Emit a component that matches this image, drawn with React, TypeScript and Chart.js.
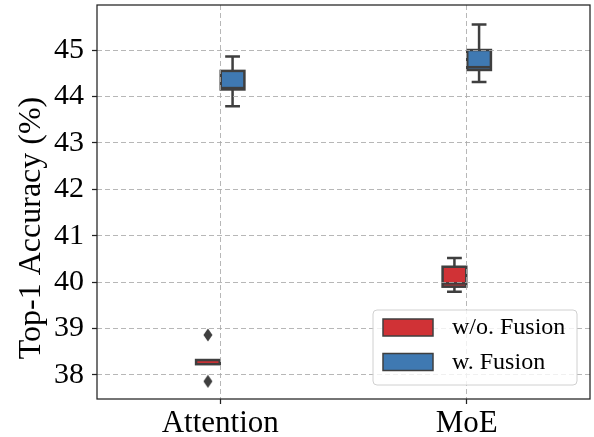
import { useEffect, useRef } from 'react';
import { Chart, registerables } from 'chart.js';

Chart.register(...registerables);

const categories = ['Attention', 'MoE'];
const seriesNames = ['w/o. Fusion', 'w. Fusion'];
const seriesColors = ['#d03236', '#3f79b2'];
const seriesOffsets = [-0.05, 0.05];
const yTitle = 'Top-1 Accuracy (%)';

// [min whisker, q1, median, q3, max whisker] per category
const woFusionAttention = [38.23, 38.23, 38.24, 38.32, 38.32];
const woFusionMoE = [39.79, 39.9, 39.97, 40.33, 40.52];
const wFusionAttention = [43.79, 44.15, 44.18, 44.55, 44.86];
const wFusionMoE = [44.31, 44.57, 44.63, 45.0, 45.55];

const woFusionOutliersAttention = [38.86, 37.86];
const woFusionOutliersMoE: number[] = [];
const wFusionOutliersAttention: number[] = [];
const wFusionOutliersMoE: number[] = [];

const yTicks = [38, 39, 40, 41, 42, 43, 44, 45];
const yMin = 37.48;
const yMax = 45.97;

const seriesStats = [
  [woFusionAttention, woFusionMoE],
  [wFusionAttention, wFusionMoE],
];
const seriesOutliers = [
  [woFusionOutliersAttention, woFusionOutliersMoE],
  [wFusionOutliersAttention, wFusionOutliersMoE],
];

const EDGE = '#3f3f3f';
const FONT = "'Liberation Serif', 'DejaVu Serif', serif";

export default function App() {
  const ref = useRef<HTMLCanvasElement | null>(null);

  useEffect(() => {
    document.body.style.margin = '0';
    const canvas = ref.current;
    if (!canvas) return;

    const marker = document.createElement('canvas');
    marker.width = 10;
    marker.height = 14;
    const mctx = marker.getContext('2d')!;
    mctx.fillStyle = EDGE;
    mctx.beginPath();
    mctx.moveTo(5, 0.5);
    mctx.lineTo(9.5, 7);
    mctx.lineTo(5, 13.5);
    mctx.lineTo(0.5, 7);
    mctx.closePath();
    mctx.fill();

    const outlierData: { x: number; y: number }[] = [];
    seriesOutliers.forEach((perCat, s) => {
      perCat.forEach((vals, c) => {
        vals.forEach((v) => outlierData.push({ x: c + seriesOffsets[s], y: v }));
      });
    });

    const boxWidth = 0.096;
    const capWidth = 0.06;

    const boxPlugin = {
      id: 'boxes',
      beforeDatasetsDraw(chart: any) {
        const { ctx } = chart;
        const xs = chart.scales.x;
        const ys = chart.scales.y;
        ctx.save();
        seriesStats.forEach((perCat, s) => {
          perCat.forEach((st, c) => {
            const cx = c + seriesOffsets[s];
            const xl = xs.getPixelForValue(cx - boxWidth / 2);
            const xr = xs.getPixelForValue(cx + boxWidth / 2);
            const xc = xs.getPixelForValue(cx);
            const cl = xs.getPixelForValue(cx - capWidth / 2);
            const cr = xs.getPixelForValue(cx + capWidth / 2);
            const pMin = ys.getPixelForValue(st[0]);
            const pQ1 = ys.getPixelForValue(st[1]);
            const pMed = ys.getPixelForValue(st[2]);
            const pQ3 = ys.getPixelForValue(st[3]);
            const pMax = ys.getPixelForValue(st[4]);
            ctx.strokeStyle = EDGE;
            ctx.lineWidth = 2.5;
            ctx.lineCap = 'butt';
            ctx.beginPath();
            ctx.moveTo(xc, pQ1);
            ctx.lineTo(xc, pMin);
            ctx.moveTo(xc, pQ3);
            ctx.lineTo(xc, pMax);
            if (st[0] < st[1]) {
              ctx.moveTo(cl, pMin);
              ctx.lineTo(cr, pMin);
            }
            if (st[4] > st[3]) {
              ctx.moveTo(cl, pMax);
              ctx.lineTo(cr, pMax);
            }
            ctx.stroke();
            ctx.fillStyle = seriesColors[s];
            ctx.fillRect(xl, pQ3, xr - xl, pQ1 - pQ3);
            ctx.strokeRect(xl, pQ3, xr - xl, pQ1 - pQ3);
            if (pQ1 - pQ3 > 8) {
              ctx.beginPath();
              ctx.moveTo(xl, pMed);
              ctx.lineTo(xr, pMed);
              ctx.stroke();
            }
          });
        });
        ctx.restore();
      },
      afterDraw(chart: any) {
        const { ctx, chartArea } = chart;
        ctx.save();
        ctx.strokeStyle = '#222';
        ctx.lineWidth = 1.25;
        ctx.strokeRect(chartArea.left, chartArea.top, chartArea.right - chartArea.left, chartArea.bottom - chartArea.top);
        // y-axis title
        ctx.save();
        ctx.translate(32, 228);
        ctx.rotate(-Math.PI / 2);
        ctx.font = `32px ${FONT}`;
        ctx.fillStyle = '#000';
        ctx.textAlign = 'center';
        ctx.textBaseline = 'middle';
        ctx.fillText(yTitle, 0, 0);
        ctx.restore();
        // legend
        const lx = 373, ly = 310, lw = 204, lh = 75, r = 4;
        ctx.beginPath();
        ctx.moveTo(lx + r, ly);
        ctx.lineTo(lx + lw - r, ly);
        ctx.quadraticCurveTo(lx + lw, ly, lx + lw, ly + r);
        ctx.lineTo(lx + lw, ly + lh - r);
        ctx.quadraticCurveTo(lx + lw, ly + lh, lx + lw - r, ly + lh);
        ctx.lineTo(lx + r, ly + lh);
        ctx.quadraticCurveTo(lx, ly + lh, lx, ly + lh - r);
        ctx.lineTo(lx, ly + r);
        ctx.quadraticCurveTo(lx, ly, lx + r, ly);
        ctx.closePath();
        ctx.fillStyle = 'rgba(255,255,255,0.8)';
        ctx.fill();
        ctx.strokeStyle = '#d0d0d0';
        ctx.lineWidth = 1;
        ctx.stroke();
        ctx.font = `24px ${FONT}`;
        ctx.textBaseline = 'middle';
        ctx.textAlign = 'left';
        seriesNames.forEach((name, i) => {
          const py = 319 + i * 34.5;
          ctx.fillStyle = seriesColors[i];
          ctx.fillRect(383, py, 50, 17);
          ctx.strokeStyle = EDGE;
          ctx.lineWidth = 1.5;
          ctx.strokeRect(383, py, 50, 17);
          ctx.fillStyle = '#000';
          ctx.fillText(name, 452, py + 9);
        });
        ctx.restore();
      },
    };

    const chart = new Chart(canvas, {
      type: 'scatter',
      data: {
        datasets: [
          {
            label: 'outliers',
            data: outlierData,
            pointStyle: marker as any,
            pointRadius: 6,
            backgroundColor: EDGE,
            borderColor: EDGE,
          },
        ],
      },
      options: {
        animation: false,
        responsive: true,
        maintainAspectRatio: false,
        layout: { autoPadding: false, padding: { top: 5, right: 4, left: 0, bottom: 0 } },
        plugins: {
          legend: { display: false },
          tooltip: { enabled: false },
        },
        scales: {
          x: {
            type: 'linear',
            min: -0.5,
            max: 1.5,
            afterBuildTicks: (scale: any) => {
              scale.ticks = categories.map((_, i) => ({ value: i }));
            },
            afterFit: (scale: any) => {
              scale.height = 38;
              scale.paddingLeft = 0;
              scale.paddingRight = 0;
            },
            ticks: {
              callback: (v: any) => categories[Math.round(v)] ?? '',
              font: { family: FONT, size: 31 },
              color: '#000',
              padding: 1,
              maxRotation: 0,
              autoSkip: false,
            },
            grid: {
              color: 'rgba(170,170,170,0.85)',
              lineWidth: 1,
              tickColor: '#222',
              tickLength: 5,
              tickWidth: 1.25,
              z: 1,
            },
            border: { display: false, dash: [5, 3] },
          },
          y: {
            min: yMin,
            max: yMax,
            afterBuildTicks: (scale: any) => {
              scale.ticks = yTicks.map((v) => ({ value: v }));
            },
            afterFit: (scale: any) => {
              scale.width = 97;
              scale.paddingTop = 0;
              scale.paddingBottom = 0;
            },
            ticks: {
              callback: (v: any) => String(v),
              font: { family: FONT, size: 30 },
              color: '#000',
              padding: 8,
              autoSkip: false,
            },
            grid: {
              color: 'rgba(170,170,170,0.85)',
              lineWidth: 1,
              tickColor: '#222',
              tickLength: 5,
              tickWidth: 1.25,
              z: 1,
            },
            border: { display: false, dash: [5, 3] },
          },
        },
      },
      plugins: [boxPlugin],
    });

    return () => {
      chart.destroy();
    };
  }, []);

  return (
    <div style={{ width: 594, height: 437, position: 'relative' }}>
      <canvas ref={ref} />
    </div>
  );
}
